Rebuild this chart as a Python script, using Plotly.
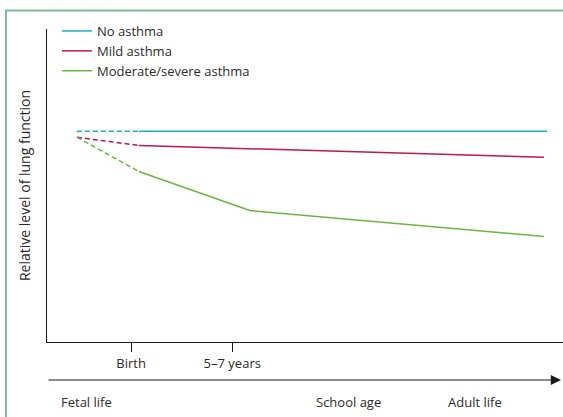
import plotly.graph_objects as go

# ---- data (relative units: x = time 0-100, y = relative lung function 0-100)
x_pre = [5.8, 17.8]                 # fetal life -> birth (dashed, extrapolated)
x_post_flat = [17.8, 96.9]
x_post = [17.8, 96.3]
x_post_mod = [17.8, 39.3, 96.3]

no_asthma_pre = [67.3, 67.3]
no_asthma_post = [67.3, 67.3]
mild_pre = [65.4, 62.8]
mild_post = [62.8, 59.0]
moderate_pre = [65.4, 54.5]
moderate_post = [54.5, 42.0, 33.7]

tick_vals = [16.3, 35.9]
tick_text = ["Birth", "5–7 years"]
stage_pos = [7.6, 58.5, 82.9]
stage_text = ["Fetal life", "School age", "Adult life"]

series_names = ["No asthma", "Mild asthma", "Moderate/severe asthma"]
colors = ["#1aaccb", "#c2164e", "#6cb640"]

W, H = 563, 417
L, T, B = 47, 29, 75
plot_w = W - L
plot_h = H - T - B

def px_x(p):
    return (p - L) / plot_w

def px_y(p):
    return (H - B - p) / plot_h

font_family = "Open Sans, Noto Sans, sans-serif"
text_color = "#2b2b2b"
fs = 13

fig = go.Figure()

pre = [no_asthma_pre, mild_pre, moderate_pre]
post = [no_asthma_post, mild_post, moderate_post]
post_x = [x_post_flat, x_post, x_post_mod]

for name, c, yp, yq, xq in zip(series_names, colors, pre, post, post_x):
    fig.add_trace(go.Scatter(x=xq, y=yq, mode="lines", name=name,
                             line=dict(color=c, width=1.5)))
for name, c, yp in zip(series_names, colors, pre):
    fig.add_trace(go.Scatter(x=x_pre, y=yp, mode="lines", name=name,
                             showlegend=False,
                             line=dict(color=c, width=1.5, dash="5px,3px")))

annotations = []
for pos, txt in zip(stage_pos, stage_text):
    annotations.append(dict(x=pos, xref="x", y=px_y(402), yref="paper",
                            xanchor="center", yanchor="middle",
                            text=txt, showarrow=False,
                            font=dict(size=fs, color=text_color,
                                      family=font_family)))
# timeline arrow
annotations.append(dict(x=px_x(561), xref="paper", y=px_y(380), yref="paper",
                        ax=-514, ay=0, text="", showarrow=True,
                        arrowhead=2, arrowsize=1.7, arrowwidth=1.2,
                        arrowcolor="#1a1a1a", standoff=0))

shapes = [
    dict(type="line", xref="paper", yref="paper",
         x0=px_x(6), x1=px_x(6), y0=px_y(10), y1=px_y(420),
         line=dict(color="#7dbd9c", width=2)),
    dict(type="line", xref="paper", yref="paper",
         x0=px_x(5), x1=px_x(565), y0=px_y(10.5), y1=px_y(10.5),
         line=dict(color="#7dbd9c", width=2)),
]

fig.update_layout(
    width=W, height=H,
    margin=dict(l=L, r=0, t=T, b=B),
    paper_bgcolor="white", plot_bgcolor="white",
    font=dict(family=font_family, size=fs, color=text_color),
    showlegend=True,
    legend=dict(x=px_x(57), y=px_y(16), xanchor="left", yanchor="top",
                bgcolor="rgba(0,0,0,0)", tracegroupgap=0,
                font=dict(size=fs, color=text_color, family=font_family)),
    xaxis=dict(range=[0, 100], showgrid=False, zeroline=False,
               showline=True, linecolor="#1a1a1a", linewidth=1,
               tickvals=tick_vals, ticktext=tick_text,
               ticks="outside", ticklen=9, tickcolor="#1a1a1a", tickwidth=1,
               tickfont=dict(size=fs, color=text_color)),
    yaxis=dict(range=[0, 100], showgrid=False, zeroline=False,
               showline=True, linecolor="#1a1a1a", linewidth=1,
               showticklabels=False, ticks="",
               title=dict(text="Relative level of lung function",
                          standoff=12,
                          font=dict(size=14, color=text_color))),
    annotations=annotations,
    shapes=shapes,
)

fig.write_html("out.html",
               config={"displayModeBar": False},
               post_script="document.body.style.margin='0px';"
                           "document.body.style.overflow='hidden';")
